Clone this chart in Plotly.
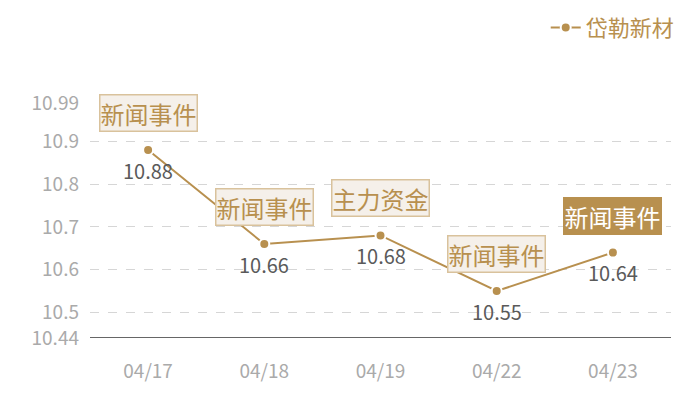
import plotly.graph_objects as go

# data
dates = ["04/17", "04/18", "04/19", "04/22", "04/23"]
prices = [10.88, 10.66, 10.68, 10.55, 10.64]
events = ["新闻事件", "新闻事件", "主力资金", "新闻事件", "新闻事件"]
highlight = [False, False, False, False, True]
y_ticks = [10.44, 10.5, 10.6, 10.7, 10.8, 10.9, 10.99]
series_name = "岱勒新材"

GOLD = "#b8904f"
FONT = "Noto Sans CJK SC"

fig = go.Figure()

fig.add_trace(go.Scatter(
    x=dates, y=prices, name=series_name,
    mode="lines+markers",
    line=dict(color=GOLD, width=2),
    marker=dict(color=GOLD, size=10, line=dict(color="white", width=2)),
))

# value labels below, event tags above each point
for d, p, ev, hl in zip(dates, prices, events, highlight):
    fig.add_annotation(
        x=d, y=p, text=f"{p:.2f}", showarrow=False, yshift=-20,
        font=dict(color="#5a5a5a", size=20, family=FONT),
    )
    fig.add_annotation(
        x=d, y=p, text=ev, showarrow=False,
        yshift=37,
        font=dict(color="white" if hl else GOLD, size=24, family=FONT),
        bgcolor=GOLD if hl else "#f5f0ea",
        bordercolor=GOLD if hl else "#d9c29c",
        borderwidth=1.5, borderpad=0,
    )

fig.update_layout(
    width=700, height=400,
    margin=dict(l=82, r=37, t=95, b=70, autoexpand=False),
    plot_bgcolor="white", paper_bgcolor="white",
    font=dict(family=FONT),
    showlegend=True,
    legend=dict(
        orientation="h", x=1.015, xanchor="right", y=1.32, yanchor="middle",
        font=dict(color=GOLD, size=22, family=FONT),
        itemwidth=30,
    ),
)

fig.update_xaxes(
    type="category", range=[-0.5, 4.5],
    showgrid=False, showline=False, ticks="",
    tickfont=dict(color="#aaaaaa", size=19, family=FONT),
    ticklabelstandoff=20,
)
fig.update_yaxes(
    range=[10.44, 10.99],
    tickvals=y_ticks, ticktext=[str(v) for v in y_ticks],
    showgrid=True, gridcolor="#d6d6d6", griddash="dash", gridwidth=1,
    zeroline=False, showline=False,
    tickfont=dict(color="#aaaaaa", size=19, family=FONT),
    ticklabelstandoff=10,
)

# baseline at the bottom of the axis
fig.add_shape(type="line", xref="paper", yref="y", x0=0, x1=1,
              y0=10.44, y1=10.44, line=dict(color="#333333", width=1.5))

fig.write_html("out.html")
